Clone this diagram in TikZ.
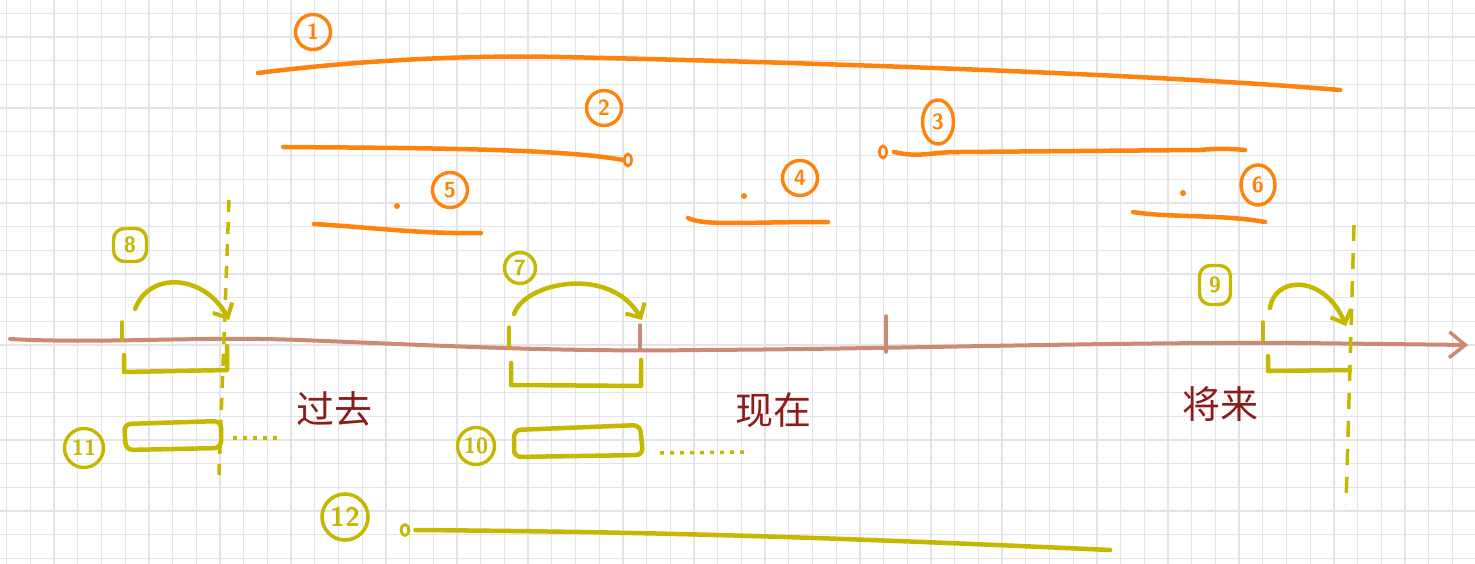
\documentclass[tikz,border=0pt]{standalone}
\usepackage{fontspec}
\newfontfamily\cjk{Noto Sans CJK SC}
\usetikzlibrary{arrows.meta,shapes.geometric}
\definecolor{gridc}{RGB}{228,228,232}
\definecolor{org}{RGB}{255,130,10}
\definecolor{olv}{RGB}{198,184,0}
\definecolor{axc}{RGB}{204,138,114}
\definecolor{txt}{RGB}{140,28,28}
\begin{document}
\begin{tikzpicture}[x=1pt,y=-1pt,
  gridline/.style={gridc, line width=1.3pt},
  oline/.style={org, line width=4.5pt, line cap=round, line join=round},
  yline/.style={olv, line width=4.5pt, line cap=round, line join=round},
  axline/.style={axc, line width=4pt, line cap=round},
  numo/.style={circle, draw=org, line width=3.4pt, text=org, minimum size=35pt, inner sep=0pt, font=\sffamily\bfseries\fontsize{22}{22}\selectfont},
  numy/.style={circle, draw=olv, line width=3.4pt, text=olv, minimum size=35pt, inner sep=0pt, font=\sffamily\bfseries\fontsize{22}{22}\selectfont},
  word/.style={text=txt, inner sep=0pt, font=\cjk\fontsize{38}{38}\selectfont},
  barb/.style={-{Straight Barb[length=11pt,width=22pt,line width=4pt]}},
  vdash/.style={olv, line width=3.5pt, dash pattern=on 12pt off 10pt},
  dots/.style={olv, line width=3.5pt, dash pattern=on 4pt off 6pt},
  endo/.style={ellipse, draw=org, line width=2.8pt, minimum width=7pt, minimum height=12pt, inner sep=0pt},
  endy/.style={ellipse, draw=olv, line width=2.8pt, minimum width=8pt, minimum height=11pt, inner sep=0pt},
  dot/.style={circle, fill=org, minimum size=6pt, inner sep=0pt}
]
\useasboundingbox (0,0) rectangle (1475,564);
\fill[white] (0,0) rectangle (1475,564);
% grid
\foreach \i in {0,...,62} {\draw[gridline] ({6.7+23.7*\i},0) -- ({6.7+23.7*\i},564);}
\foreach \j in {0,...,23} {\draw[gridline] (0,{13.3+23.7*\j}) -- (1475,{13.3+23.7*\j});}

% ---------- orange labels ----------
\node[numo] (n1) at (313,32) {1};
\node[numo] (n2) at (604,108) {2};
\node[numo, minimum height=44pt, minimum width=31pt, ellipse] (n3) at (938,122) {3};
\node[numo] (n4) at (800,178) {4};
\node[numo] (n5) at (450,190) {5};
\node[numo, minimum height=40pt, minimum width=34pt, ellipse] (n6) at (1258,185) {6};

% ---------- orange lines ----------
\coordinate (a1) at (258,73);
\coordinate (b1) at (1340,90);
\draw[oline] (a1) .. controls (360,60) and (470,55) .. (560,57) .. controls (800,62) and (1150,74) .. (b1);

\coordinate (a2) at (283,147);
\node[endo] (e2) at (628,160) {};
\draw[oline] (a2) .. controls (400,148) and (560,148) .. (e2.west);

\node[endo] (e3) at (883,152) {};
\coordinate (b3) at (1245,150);
\draw[oline] ([xshift=6pt]e3.east) .. controls (920,158) and (930,152) .. (960,152) -- (1200,150) .. controls (1220,148) and (1235,149) .. (b3);

\node[dot] (d5) at (397,206) {};
\coordinate (a5) at (314,224);
\coordinate (b5) at (481,233);
\draw[oline] (a5) .. controls (380,228) and (420,234) .. (b5);

\node[dot] (d4) at (744,196) {};
\coordinate (a4) at (688,218);
\coordinate (b4) at (828,222);
\draw[oline] (a4) .. controls (705,226) and (740,222) .. (b4);

\node[dot] (d6) at (1183,193) {};
\coordinate (a6) at (1133,212);
\coordinate (b6) at (1265,222);
\draw[oline] (a6) .. controls (1170,218) and (1220,214) .. (b6);

% ---------- axis ----------
\coordinate (ax0) at (10,339);
\coordinate (ax1) at (1468,345);
\draw[axline, -{Straight Barb[length=16pt,width=26pt,line width=3.5pt]}] (ax0) .. controls (100,344) and (200,336) .. (300,340) .. controls (450,346) and (560,352) .. (700,350) .. controls (900,349) and (1100,342) .. (1300,343) -- (ax1);
\coordinate (t1a) at (640,325); \coordinate (t1b) at (640,350);
\draw[axline, line width=3.5pt] (t1a) -- (t1b);
\coordinate (t2a) at (886,316); \coordinate (t2b) at (886,352);
\draw[axline, line width=3.5pt] (t2a) -- (t2b);

% ---------- yellow: 8 / 11 ----------
\node[numy, rectangle, rounded corners=11pt, minimum size=33pt] (n8) at (130,245) {8};
\coordinate (v8a) at (229,200); \coordinate (v8b) at (219,475);
\draw[vdash] (v8a) -- (v8b);
\coordinate (s8) at (135,309); \coordinate (e8) at (229,320);
\draw[yline, barb] (s8) .. controls (150,270) and (205,275) .. (e8);
\coordinate (k8a) at (122,322); \coordinate (k8b) at (122,340);
\draw[yline, line width=3.5pt] (k8a) -- (k8b);
\coordinate (br8a) at (124,355); \coordinate (br8b) at (124,372);
\coordinate (br8c) at (227,370); \coordinate (br8d) at (227,346);
\draw[yline] (br8a) -- (br8b) -- (br8c) -- (br8d);
\node[numy, minimum size=39pt] (n11) at (84,448) {11};
\coordinate (r11a) at (124,424); \coordinate (r11b) at (221,421);
\coordinate (r11c) at (221,448); \coordinate (r11d) at (126,450);
\draw[yline, rounded corners=7pt] (r11a) -- (r11b) -- (r11c) -- (r11d) -- cycle;
\coordinate (p11a) at (233,438); \coordinate (p11b) at (283,438);
\draw[dots] (p11a) -- (p11b);

% ---------- yellow: 7 / 10 ----------
\node[numy, minimum size=31pt] (n7) at (520,268) {7};
\coordinate (s7) at (514,314); \coordinate (e7) at (642,320);
\draw[yline, barb] (s7) .. controls (525,282) and (610,265) .. (e7);
\coordinate (k7a) at (509,327); \coordinate (k7b) at (509,346);
\draw[yline, line width=3.5pt] (k7a) -- (k7b);
\coordinate (br7a) at (511,363); \coordinate (br7b) at (511,385);
\coordinate (br7c) at (641,386); \coordinate (br7d) at (641,360);
\draw[yline] (br7a) -- (br7b) -- (br7c) -- (br7d);
\node[numy, minimum size=37pt] (n10) at (476,446) {10};
\coordinate (r10a) at (514,430); \coordinate (r10b) at (640,425);
\coordinate (r10c) at (643,455); \coordinate (r10d) at (514,457);
\draw[yline, rounded corners=7pt] (r10a) -- (r10b) -- (r10c) -- (r10d) -- cycle;
\coordinate (p10a) at (660,453); \coordinate (p10b) at (750,452);
\draw[dots] (p10a) -- (p10b);

% ---------- yellow: 9 ----------
\node[numy, rectangle, rounded corners=11pt, minimum width=31pt, minimum height=39pt] (n9) at (1215,285) {9};
\coordinate (v9a) at (1354,225); \coordinate (v9b) at (1346,505);
\draw[vdash, dash pattern=on 16pt off 12pt] (v9a) -- (v9b);
\coordinate (s9) at (1270,308); \coordinate (e9) at (1346,326);
\draw[yline, barb] (s9) .. controls (1275,275) and (1325,275) .. (e9);
\coordinate (k9a) at (1263,322); \coordinate (k9b) at (1263,340);
\draw[yline, line width=3.5pt] (k9a) -- (k9b);
\coordinate (br9a) at (1268,356); \coordinate (br9b) at (1268,371);
\coordinate (br9c) at (1350,370);
\draw[yline] (br9a) -- (br9b) -- (br9c);

% ---------- yellow: 12 ----------
\node[numy, minimum size=46pt, line width=3.6pt, font=\sffamily\bfseries\fontsize{27}{27}\selectfont] (n12) at (345,517) {12};
\node[endy] (e12) at (405,530) {};
\coordinate (b12) at (1110,550);
\draw[yline] ([xshift=5pt]e12.east) .. controls (650,532) and (800,536) .. (b12);

% ---------- words ----------
\node[word] (w1) at (334,409) {过去};
\node[word] (w2) at (773,410) {现在};
\node[word] (w3) at (1220,404) {将来};
\end{tikzpicture}
\end{document}
